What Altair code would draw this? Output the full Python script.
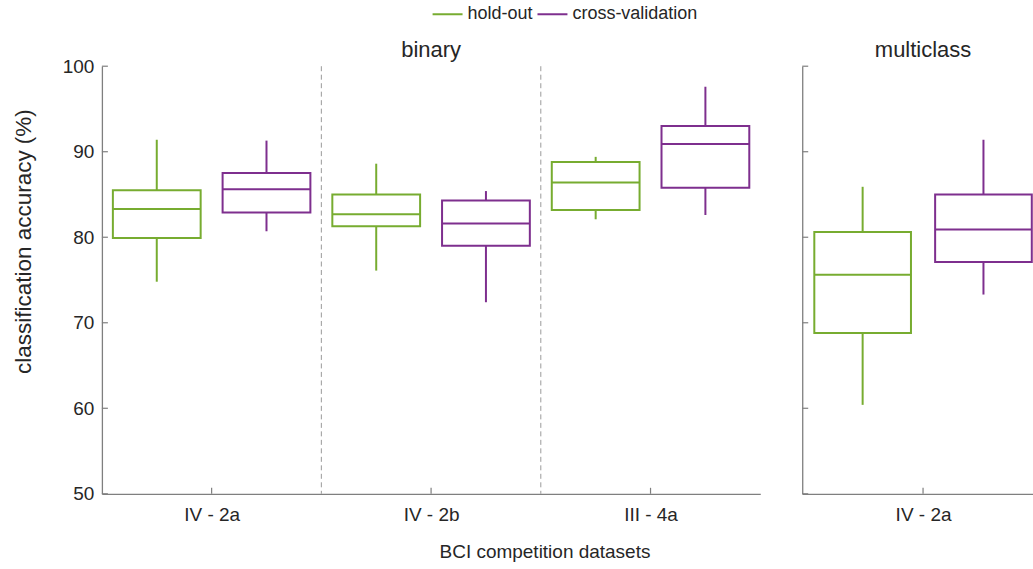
import json

import altair as alt
import pandas as pd

FONT = "Liberation Sans"
GREEN = "#77AC30"
PURPLE = "#7E2F8E"
AXIS_GRAY = "#7f7f7f"
SEP_GRAY = "#9a9a9a"
TEXT = "#262626"

PLOT_H = 428

# ---- data -------------------------------------------------------------
methods = ["hold-out", "cross-validation"]

binary_sets = ["IV - 2a", "IV - 2b", "III - 4a"]
multi_sets = ["IV - 2a"]

# box statistics: lower whisker, Q1, median, Q3, upper whisker
binary_holdout_lo = [74.8, 76.1, 82.1]
binary_holdout_q1 = [79.9, 81.3, 83.2]
binary_holdout_med = [83.3, 82.7, 86.4]
binary_holdout_q3 = [85.5, 85.0, 88.8]
binary_holdout_hi = [91.4, 88.6, 89.4]

binary_cv_lo = [80.7, 72.4, 82.6]
binary_cv_q1 = [82.9, 79.0, 85.8]
binary_cv_med = [85.6, 81.6, 90.9]
binary_cv_q3 = [87.5, 84.3, 93.0]
binary_cv_hi = [91.3, 85.4, 97.6]

multi_holdout_lo = [60.4]
multi_holdout_q1 = [68.8]
multi_holdout_med = [75.6]
multi_holdout_q3 = [80.6]
multi_holdout_hi = [85.9]

multi_cv_lo = [73.3]
multi_cv_q1 = [77.1]
multi_cv_med = [80.9]
multi_cv_q3 = [85.0]
multi_cv_hi = [91.4]

y_ticks = [50, 60, 70, 80, 90, 100]

# ---- helpers ----------------------------------------------------------
OFFSET = 0.25   # half distance between the two boxes of one dataset
HALF_W = 0.20   # half box width


def box_frame(sets, stats):
    rows = []
    for m_i, method in enumerate(methods):
        lo, q1, med, q3, hi = stats[method]
        shift = -OFFSET if m_i == 0 else OFFSET
        for g in range(len(sets)):
            centre = g + 1 + shift
            rows.append(
                dict(method=method, x=centre, left=centre - HALF_W,
                     right=centre + HALF_W, lo=lo[g], q1=q1[g], med=med[g],
                     q3=q3[g], hi=hi[g])
            )
    return pd.DataFrame(rows)


color_scale = alt.Scale(domain=methods, range=[GREEN, PURPLE])
y_scale = alt.Scale(domain=[50, 100], nice=False, zero=False)


def panel(sets, stats, x_max, width, title, title_x, first):
    df = box_frame(sets, stats)
    x_scale = alt.Scale(domain=[0.5, x_max], nice=False, zero=False)
    label_expr = json.dumps(sets) + "[datum.value - 1]"

    if first:
        x_axis = alt.Axis(values=list(range(1, len(sets) + 1)),
                          labelExpr=label_expr, labelPadding=12,
                          title="BCI competition datasets", titleFontSize=19,
                          titleX=443, titleY=58, titleBaseline="middle",
                          titleAlign="center")
        y_axis = alt.Axis(values=y_ticks, labelPadding=8,
                          title="classification accuracy (%)",
                          titleFontSize=22.5, titleAngle=270, titleX=-78,
                          titleY=175, titleBaseline="middle",
                          titleAlign="center")
    else:
        x_axis = alt.Axis(values=list(range(1, len(sets) + 1)),
                          labelExpr=label_expr, labelPadding=12, title=None)
        y_axis = alt.Axis(values=y_ticks, labels=False, title=None)

    color = alt.Color("method:N", scale=color_scale,
                      legend=alt.Legend(title=None))

    layers = []

    if len(sets) > 1:
        seps = pd.DataFrame({"x": [g + 1.5 for g in range(len(sets) - 1)]})
        layers.append(
            alt.Chart(seps).mark_rule(color=SEP_GRAY, strokeWidth=1,
                                      strokeDash=[5, 3.5]).encode(
                x=alt.X("x:Q", scale=x_scale, axis=x_axis),
                y=alt.value(0), y2=alt.value(PLOT_H))
        )

    base = alt.Chart(df)
    layers += [
        base.mark_rule(strokeWidth=2).encode(
            x=alt.X("x:Q", scale=x_scale, axis=x_axis),
            y=alt.Y("lo:Q", scale=y_scale, axis=y_axis), y2="q1:Q",
            color=color),
        base.mark_rule(strokeWidth=2).encode(
            x=alt.X("x:Q", scale=x_scale, axis=x_axis),
            y=alt.Y("q3:Q", scale=y_scale, axis=y_axis), y2="hi:Q",
            color=color),
        base.mark_rect(filled=False, strokeWidth=2).encode(
            x=alt.X("left:Q", scale=x_scale, axis=x_axis), x2="right:Q",
            y=alt.Y("q1:Q", scale=y_scale, axis=y_axis), y2="q3:Q",
            color=color),
        base.mark_rule(strokeWidth=2).encode(
            x=alt.X("left:Q", scale=x_scale, axis=x_axis), x2="right:Q",
            y=alt.Y("med:Q", scale=y_scale, axis=y_axis),
            color=color),
    ]

    # inward tick marks on both axes
    yt = pd.DataFrame({"v": y_ticks})
    layers.append(
        alt.Chart(yt).mark_rule(color=AXIS_GRAY, strokeWidth=1.2).encode(
            x=alt.value(0), x2=alt.value(6),
            y=alt.Y("v:Q", scale=y_scale, axis=y_axis))
    )
    xt = pd.DataFrame({"x": list(range(1, len(sets) + 1))})
    layers.append(
        alt.Chart(xt).mark_rule(color=AXIS_GRAY, strokeWidth=1.2).encode(
            x=alt.X("x:Q", scale=x_scale, axis=x_axis),
            y=alt.value(PLOT_H), y2=alt.value(PLOT_H - 6))
    )

    # panel heading, centred over the panel's datasets
    head = pd.DataFrame({"label": [title], "x": [title_x]})
    layers.append(
        alt.Chart(head).mark_text(font=FONT, fontSize=22, color=TEXT,
                                  baseline="alphabetic", align="center").encode(
            x=alt.X("x:Q", scale=x_scale, axis=x_axis),
            y=alt.value(-9), text="label:N")
    )

    return alt.layer(*layers).properties(width=width, height=PLOT_H)


binary_stats = {
    "hold-out": (binary_holdout_lo, binary_holdout_q1, binary_holdout_med,
                 binary_holdout_q3, binary_holdout_hi),
    "cross-validation": (binary_cv_lo, binary_cv_q1, binary_cv_med,
                         binary_cv_q3, binary_cv_hi),
}
multi_stats = {
    "hold-out": (multi_holdout_lo, multi_holdout_q1, multi_holdout_med,
                 multi_holdout_q3, multi_holdout_hi),
    "cross-validation": (multi_cv_lo, multi_cv_q1, multi_cv_med,
                         multi_cv_q3, multi_cv_hi),
}

left = panel(binary_sets, binary_stats, 3.5, 659, "binary", 2.0, True)
right = panel(multi_sets, multi_stats, 1.455, 231, "multiclass", 1.0, False)

chart = (
    alt.hconcat(left, right, spacing=41)
    .resolve_scale(x="independent")
    .properties(padding={"left": 13, "top": -2, "right": 0, "bottom": 7})
    .configure_view(strokeWidth=0)
    .configure_axis(
        grid=False, ticks=False, domainColor=AXIS_GRAY, domainWidth=1.3,
        labelFont=FONT, labelFontSize=19, labelColor=TEXT,
        titleFont=FONT, titleColor=TEXT, titleFontWeight="normal",
    )
    .configure_legend(
        orient="none", legendX=330, legendY=-68, direction="horizontal",
        symbolType="stroke", symbolSize=900, symbolStrokeWidth=2,
        labelFont=FONT, labelFontSize=18, labelColor=TEXT, labelOffset=4,
        columnPadding=0, padding=0,
    )
)

chart.save("out.html", embed_options={"renderer": "svg", "actions": False})
